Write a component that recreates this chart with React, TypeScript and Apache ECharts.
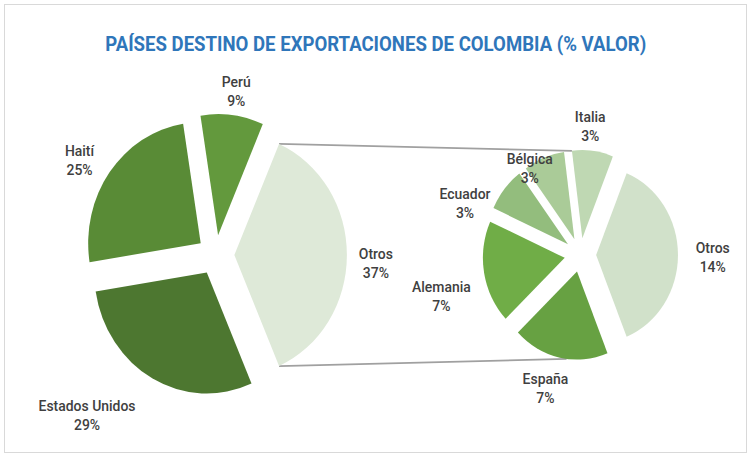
import React, { useEffect, useRef } from 'react';
import * as echarts from 'echarts';

const titleText = 'PAÍSES DESTINO DE EXPORTACIONES DE COLOMBIA (% VALOR)';
const mainNames = ['Otros', 'Estados Unidos', 'Haití', 'Perú'];
const mainValues = [37, 29, 25, 9];
const subNames = ['Otros', 'España', 'Alemania', 'Ecuador', 'Bélgica', 'Italia'];
const subValues = [14, 7, 7, 3, 3, 3];

const mainColors = ['#DEE9D8', '#4D7730', '#598B36', '#63993D'];
const subColors = ['#D1E1CA', '#67A142', '#70AD47', '#93BD7D', '#AACB98', '#BFD8B3'];

// label placement tweaks (degrees turned from the slice bisector, gap in px beyond the slice)
const mainLabelTurn = [-2.5, -2.5, 6, 0];
const mainLabelGap = [13, 25, 10, 4];
const subLabelTurn = [-1, -0.8, 5.3, 17.8, 4, 3];
const subLabelGap = [19, 13, 17, -1.5, -30, 4];

const SX = 0.93;
const W = 751;
const H = 457;
const IW = Math.round(W / SX);

const MAIN = { cx: 232, cy: 255, r: 121, off: 20 };
const SUB = { cx: 624, cy: 255, r: 88, off: 17 };

const sum = (a: number[]) => a.reduce((s, v) => s + v, 0);
const mainStart = (mainValues[0] / sum(mainValues)) * 180;
const subStart = (subValues[0] / sum(subValues)) * 180;

function midAngle(values: number[], start: number, idx: number) {
  const total = sum(values);
  let acc = 0;
  for (let j = 0; j < idx; j++) acc += values[j];
  return start - ((acc + values[idx] / 2) / total) * 360;
}

function makeLayout(geo: typeof MAIN, values: number[], start: number, turn: number[], gap: number[]) {
  return (p: any) => {
    const i = p.dataIndex;
    const deg = midAngle(values, start, i) + turn[i];
    const rad = (deg * Math.PI) / 180;
    const dx = Math.cos(rad);
    const dy = -Math.sin(rad);
    const dist = geo.r + geo.off + gap[i];
    const ax = geo.cx + dx * dist;
    const ay = geo.cy + dy * dist;
    const w = p.labelRect.width;
    const h = p.labelRect.height;
    const sx = Math.sign(dx) * (w / 2) * Math.min(1, 2 * Math.abs(dx));
    const sy = Math.sign(dy) * (h / 2) * Math.min(1, 2 * Math.abs(dy));
    return { x: ax + sx, y: ay + sy, align: 'center', verticalAlign: 'middle' };
  };
}

function slicePoint(geo: typeof MAIN, values: number[], start: number, idx: number, deg: number) {
  const mid = (midAngle(values, start, idx) * Math.PI) / 180;
  const a = (deg * Math.PI) / 180;
  return [
    geo.cx + geo.off * Math.cos(mid) + geo.r * Math.cos(a),
    geo.cy - geo.off * Math.sin(mid) - geo.r * Math.sin(a),
  ];
}

const mainOtrosSpan = (mainValues[0] / sum(mainValues)) * 360;
const lastSubDeg = subStart + (subValues[subValues.length - 1] / sum(subValues)) * 360;

const upA = slicePoint(MAIN, mainValues, mainStart, 0, mainStart);
const loA = slicePoint(MAIN, mainValues, mainStart, 0, mainStart - mainOtrosSpan);
const upB = slicePoint(SUB, subValues, subStart, subValues.length - 1, lastSubDeg);
const loB = slicePoint(SUB, subValues, subStart, 1, -lastSubDeg);

const labelStyle = {
  show: true,
  position: 'inside',
  formatter: '{b}\n{c}%',
  fontFamily: 'Roboto',
  fontSize: 15,
  fontWeight: 500,
  color: '#404040',
  lineHeight: 19,
};

function sectorSeries(geo: typeof MAIN, names: string[], values: number[], colors: string[], start: number) {
  return {
    type: 'pie',
    center: [geo.cx, geo.cy],
    radius: geo.r,
    startAngle: start,
    clockwise: true,
    selectedMode: 'multiple',
    selectedOffset: geo.off,
    silent: true,
    emphasis: { disabled: true },
    label: { show: false },
    labelLine: { show: false },
    data: names.map((n, i) => ({ name: n, value: values[i], selected: true, itemStyle: { color: colors[i] } })),
  };
}

function labelSeries(geo: typeof MAIN, names: string[], values: number[], start: number, turn: number[], gap: number[]) {
  return {
    type: 'pie',
    center: [geo.cx, geo.cy],
    radius: geo.r,
    startAngle: start,
    clockwise: true,
    silent: true,
    avoidLabelOverlap: false,
    emphasis: { disabled: true },
    itemStyle: { color: 'rgba(0,0,0,0)' },
    label: labelStyle,
    labelLine: { show: false },
    labelLayout: makeLayout(geo, values, start, turn, gap),
    data: names.map((n, i) => ({ name: n, value: values[i] })),
  };
}

export default function App() {
  const ref = useRef<HTMLDivElement>(null);
  useEffect(() => {
    const chart = echarts.init(ref.current!, null, { renderer: 'svg', width: IW, height: H });
    chart.setOption({
      animation: false,
      title: {
        text: titleText,
        left: 'center',
        top: 29,
        textStyle: { fontFamily: 'Roboto', fontSize: 20, fontWeight: 'bold', color: '#2F76BA' },
      },
      graphic: [
        {
          type: 'line',
          shape: { x1: upA[0], y1: upA[1], x2: upB[0], y2: upB[1] },
          style: { stroke: '#A0A0A0', lineWidth: 1.8 },
          silent: true,
        },
        {
          type: 'line',
          shape: { x1: loA[0], y1: loA[1], x2: loB[0], y2: loB[1] },
          style: { stroke: '#A0A0A0', lineWidth: 1.8 },
          silent: true,
        },
      ],
      series: [
        sectorSeries(MAIN, mainNames, mainValues, mainColors, mainStart),
        sectorSeries(SUB, subNames, subValues, subColors, subStart),
        labelSeries(MAIN, mainNames, mainValues, mainStart, mainLabelTurn, mainLabelGap),
        labelSeries(SUB, subNames, subValues, subStart, subLabelTurn, subLabelGap),
      ],
    });
    return () => chart.dispose();
  }, []);
  return (
    <div style={{ position: 'fixed', left: 0, top: 0, width: W, height: H, overflow: 'hidden', background: '#fff' }}>
      <div
        style={{
          position: 'absolute',
          left: 4,
          top: 4,
          width: W - 10,
          height: H - 10,
          border: '1px solid #D9D9D9',
        }}
      />
      <div
        ref={ref}
        style={{
          position: 'absolute',
          left: 0,
          top: 0,
          width: IW,
          height: H,
          transform: `scaleX(${SX})`,
          transformOrigin: '0 0',
        }}
      />
    </div>
  );
}
